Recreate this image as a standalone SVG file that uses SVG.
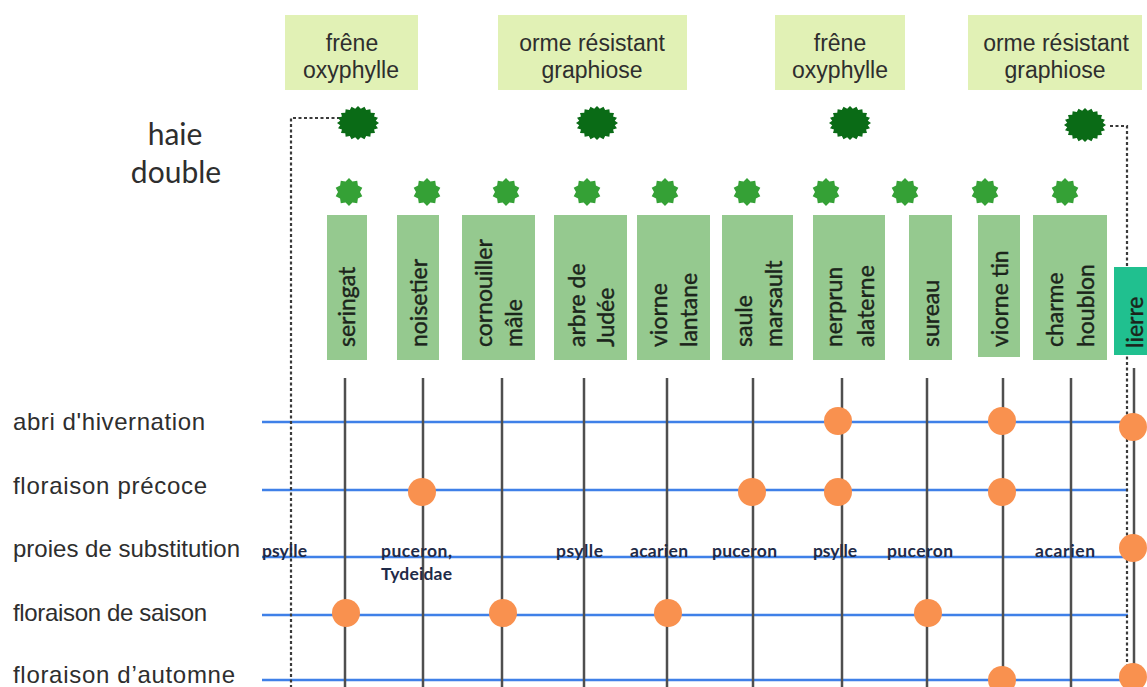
<svg xmlns="http://www.w3.org/2000/svg" xmlns:xlink="http://www.w3.org/1999/xlink" width="1147" height="687" viewBox="0 0 1147 687">
<defs>
<style>
.top{fill:#e1f1b5}
.toptx{font-family:"Liberation Sans",Arial,sans-serif;font-size:23px;fill:#2e2e2e;text-anchor:middle}
.shrub{fill:#95c98f}
.shtx{font-family:Lato,"Open Sans",sans-serif;font-size:23px;fill:#1b241b;stroke:#1b241b;stroke-width:0.4}
.row{font-family:"Liberation Sans",Arial,sans-serif;font-size:24px;fill:#2e2e2e}
.prey{font-family:Lato,"Open Sans",sans-serif;font-size:17.5px;font-weight:bold;fill:#1f2b48}
.hline{stroke:#3f80e8;stroke-width:2.5}
.vline{stroke:#4f4f4f;stroke-width:2.5}
.dash{stroke:#3a3a3a;stroke-width:2.2;fill:none;stroke-dasharray:3 2.5}
.dot{fill:#f9914f}
.big{fill:#0a6b16}
.small{fill:#35a136}
</style>
<polygon id="bigstar" points="21,0 17.78,2.26 19.97,5.25 16.04,6.58 16.99,10 12.73,10.25 12.35,13.75 8.17,12.92 6.49,16.17 2.81,14.33 0,17 -2.81,14.33 -6.49,16.17 -8.17,12.92 -12.35,13.75 -12.73,10.25 -16.99,10 -16.04,6.58 -19.97,5.25 -17.78,2.26 -21,0 -17.78,-2.26 -19.97,-5.25 -16.04,-6.58 -16.99,-10 -12.73,-10.25 -12.35,-13.75 -8.17,-12.92 -6.49,-16.17 -2.81,-14.33 0,-17 2.81,-14.33 6.49,-16.17 8.17,-12.92 12.35,-13.75 12.73,-10.25 16.99,-10 16.04,-6.58 19.97,-5.25 17.78,-2.26"/>
<polygon id="smallstar" points="0,-14 3.4,-10.46 8.23,-11.33 8.9,-6.47 13.31,-4.33 11,0 13.31,4.33 8.9,6.47 8.23,11.33 3.4,10.46 0,14 -3.4,10.46 -8.23,11.33 -8.9,6.47 -13.31,4.33 -11,0 -13.31,-4.33 -8.9,-6.47 -8.23,-11.33 -3.4,-10.46"/>
</defs>
<rect width="1147" height="687" fill="#ffffff"/>

<g id="connectors">
  <g id="rows-lines">
    <line class="hline" x1="262" y1="422" x2="1130" y2="422"/>
    <line class="hline" x1="262" y1="490" x2="1128" y2="490"/>
    <line class="hline" x1="262" y1="557" x2="1130" y2="557"/>
    <line class="hline" x1="262" y1="615" x2="1128" y2="615"/>
    <line class="hline" x1="262" y1="680" x2="1130" y2="680"/>
  </g>
  <g id="shrub-lines">
    <line class="vline" x1="345" y1="378" x2="345" y2="687"/>
    <line class="vline" x1="423" y1="378" x2="423" y2="687"/>
    <line class="vline" x1="502" y1="378" x2="502" y2="687"/>
    <line class="vline" x1="584" y1="378" x2="584" y2="687"/>
    <line class="vline" x1="667" y1="378" x2="667" y2="687"/>
    <line class="vline" x1="753" y1="378" x2="753" y2="687"/>
    <line class="vline" x1="842" y1="378" x2="842" y2="687"/>
    <line class="vline" x1="927" y1="378" x2="927" y2="687"/>
    <line class="vline" x1="1003" y1="378" x2="1003" y2="687"/>
    <line class="vline" x1="1071" y1="378" x2="1071" y2="687"/>
    <line class="vline" x1="1134" y1="368" x2="1134" y2="687" stroke-width="3"/>
  </g>
  <g id="hedge-bounds">
    <path class="dash" d="M340,118 H291 V687" />
    <path class="dash" d="M1110,126 H1127 V687" />
  </g>
</g>

<g id="label-haie-double">
  <text x="175" y="145" font-family="Lato,'Open Sans',sans-serif" font-size="30" fill="#2e2e2e" text-anchor="middle">haie</text>
  <text x="176" y="183" font-family="Lato,'Open Sans',sans-serif" font-size="30" fill="#2e2e2e" text-anchor="middle">double</text>
</g>

<g id="tree-frene-1">
  <rect class="top" x="285" y="15" width="133" height="75"/>
  <text class="toptx" x="352" y="51">frêne</text>
  <text class="toptx" x="351" y="78">oxyphylle</text>
  <use href="#bigstar" class="big" x="358" y="123"/>
</g>
<g id="tree-orme-1">
  <rect class="top" x="498" y="15" width="189" height="75"/>
  <text class="toptx" x="592" y="51">orme résistant</text>
  <text class="toptx" x="592" y="78">graphiose</text>
  <use href="#bigstar" class="big" x="597" y="123"/>
</g>
<g id="tree-frene-2">
  <rect class="top" x="775" y="15" width="130" height="75"/>
  <text class="toptx" x="840" y="51">frêne</text>
  <text class="toptx" x="840" y="78">oxyphylle</text>
  <use href="#bigstar" class="big" x="850" y="123"/>
</g>
<g id="tree-orme-2">
  <rect class="top" x="968" y="15" width="174" height="75"/>
  <text class="toptx" x="1056" y="51">orme résistant</text>
  <text class="toptx" x="1055" y="78">graphiose</text>
  <use href="#bigstar" class="big" x="1085" y="125"/>
</g>

<g id="small-stars">
  <use href="#smallstar" class="small" x="349" y="192"/>
  <use href="#smallstar" class="small" x="427" y="192"/>
  <use href="#smallstar" class="small" x="506" y="192"/>
  <use href="#smallstar" class="small" x="587" y="192"/>
  <use href="#smallstar" class="small" x="665" y="192"/>
  <use href="#smallstar" class="small" x="747" y="192"/>
  <use href="#smallstar" class="small" x="826" y="192"/>
  <use href="#smallstar" class="small" x="905" y="192"/>
  <use href="#smallstar" class="small" x="985" y="192"/>
  <use href="#smallstar" class="small" x="1065" y="192"/>
</g>

<g id="shrub-seringat">
  <rect class="shrub" x="327" y="215" width="40" height="145"/>
  <text class="shtx" transform="translate(355,347) rotate(-90)">seringat</text>
</g>
<g id="shrub-noisetier">
  <rect class="shrub" x="397" y="215" width="42" height="145"/>
  <text class="shtx" transform="translate(427,347) rotate(-90)">noisetier</text>
</g>
<g id="shrub-cornouiller">
  <rect class="shrub" x="462" y="215" width="73" height="145"/>
  <text class="shtx" transform="translate(492,347) rotate(-90)">cornouiller</text>
  <text class="shtx" transform="translate(522,347) rotate(-90)">mâle</text>
</g>
<g id="shrub-arbre-judee">
  <rect class="shrub" x="554" y="215" width="73" height="145"/>
  <text class="shtx" transform="translate(585,347) rotate(-90)">arbre de</text>
  <text class="shtx" transform="translate(614,347) rotate(-90)">Judée</text>
</g>
<g id="shrub-viorne-lantane">
  <rect class="shrub" x="637" y="215" width="73" height="145"/>
  <text class="shtx" transform="translate(667,347) rotate(-90)">viorne</text>
  <text class="shtx" transform="translate(697,347) rotate(-90)">lantane</text>
</g>
<g id="shrub-saule">
  <rect class="shrub" x="722" y="215" width="71" height="145"/>
  <text class="shtx" transform="translate(752,347) rotate(-90)">saule</text>
  <text class="shtx" transform="translate(782,347) rotate(-90)">marsault</text>
</g>
<g id="shrub-nerprun">
  <rect class="shrub" x="813" y="215" width="72" height="145"/>
  <text class="shtx" transform="translate(842,347) rotate(-90)">nerprun</text>
  <text class="shtx" transform="translate(874,347) rotate(-90)">alaterne</text>
</g>
<g id="shrub-sureau">
  <rect class="shrub" x="909" y="215" width="43" height="145"/>
  <text class="shtx" transform="translate(939,347) rotate(-90)">sureau</text>
</g>
<g id="shrub-viorne-tin">
  <rect class="shrub" x="978" y="215" width="42" height="142"/>
  <text class="shtx" transform="translate(1008,347) rotate(-90)">viorne tin</text>
</g>
<g id="shrub-charme">
  <rect class="shrub" x="1033" y="215" width="74" height="145"/>
  <text class="shtx" transform="translate(1063,347) rotate(-90)">charme</text>
  <text class="shtx" transform="translate(1094,347) rotate(-90)">houblon</text>
</g>
<g id="shrub-lierre">
  <rect x="1114" y="267" width="36" height="88" fill="#20c08f"/>
  <text class="shtx" transform="translate(1143,348) rotate(-90)">lierre</text>
</g>

<g id="row-labels">
  <text class="row" x="13" y="430" textLength="192">abri d'hivernation</text>
  <text class="row" x="13" y="494" textLength="194">floraison précoce</text>
  <text class="row" x="13" y="557" textLength="227">proies de substitution</text>
  <text class="row" x="13" y="621" textLength="194">floraison de saison</text>
  <text class="row" x="13" y="683" textLength="222">floraison d’automne</text>
</g>

<g id="dots">
  <circle class="dot" cx="838" cy="421" r="14"/>
  <circle class="dot" cx="1002" cy="421" r="14"/>
  <circle class="dot" cx="1133" cy="427" r="14"/>
  <circle class="dot" cx="422" cy="492" r="14"/>
  <circle class="dot" cx="752" cy="492" r="14"/>
  <circle class="dot" cx="838" cy="492" r="14"/>
  <circle class="dot" cx="1002" cy="492" r="14"/>
  <circle class="dot" cx="1133" cy="548" r="14"/>
  <circle class="dot" cx="346" cy="613" r="14"/>
  <circle class="dot" cx="503" cy="613" r="14"/>
  <circle class="dot" cx="668" cy="613" r="14"/>
  <circle class="dot" cx="928" cy="613" r="14"/>
  <circle class="dot" cx="1002" cy="680" r="14"/>
  <circle class="dot" cx="1133" cy="677" r="14"/>
</g>

<g id="prey-labels">
  <text class="prey" x="262" y="557" textLength="45">psylle</text>
  <text class="prey" x="381" y="557" textLength="71">puceron,</text>
  <text class="prey" x="381" y="580" textLength="71">Tydeidae</text>
  <text class="prey" x="556" y="557" textLength="47">psylle</text>
  <text class="prey" x="630" y="557" textLength="58">acarien</text>
  <text class="prey" x="712" y="557" textLength="65">puceron</text>
  <text class="prey" x="813" y="557" textLength="44">psylle</text>
  <text class="prey" x="887" y="557" textLength="66">puceron</text>
  <text class="prey" x="1035" y="557" textLength="60">acarien</text>
</g>
</svg>
